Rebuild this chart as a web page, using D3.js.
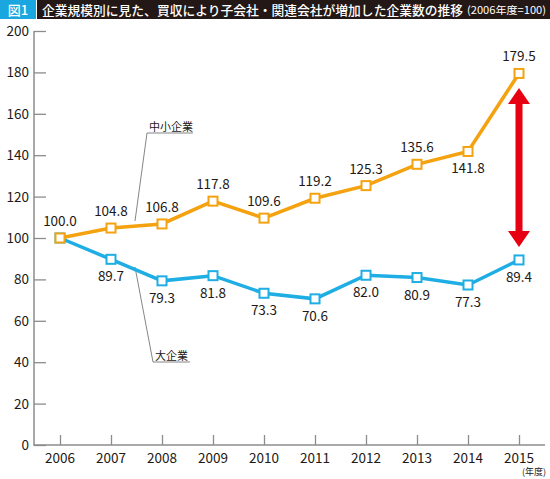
<!DOCTYPE html>
<html><head><meta charset="utf-8">
<script src="https://cdn.jsdelivr.net/npm/d3@7"></script>
<style>body{margin:0;background:#fff;} svg{display:block;}</style>
</head><body>
<script>
const years = ["2006","2007","2008","2009","2010","2011","2012","2013","2014","2015"];
const smeValues = [100.0,104.8,106.8,117.8,109.6,119.2,125.3,135.6,141.8,179.5];
const largeValues = [100.0,89.7,79.3,81.8,73.3,70.6,82.0,80.9,77.3,89.4];
const smeLabelPos = ["above","above","above","above","above","above","above","above","below","above"];
const largeLabelPos = ["none","below","below","below","below","below","below","below","below","below"];
const yTicks = [0,20,40,60,80,100,120,140,160,180,200];
const titleText = "企業規模別に見た、買収により子会社・関連会社が増加した企業数の推移";
const titleNote = "(2006年度=100)";

(function(){
const W=550,H=479;
const svg=d3.select("body").append("svg").attr("width",W).attr("height",H);
const font="'Noto Sans CJK JP','Noto Sans',sans-serif";
const orange="#f4a20f", blue="#1eaee4", axisCol="#8c8c8c";

// title
svg.append("rect").attr("x",0).attr("y",0).attr("width",36).attr("height",19).attr("fill","#1aa6de");
svg.append("rect").attr("x",37).attr("y",0).attr("width",W-37).attr("height",19).attr("fill","#231815");
svg.append("text").attr("x",18).attr("y",14.5).attr("text-anchor","middle").attr("fill","#fff")
  .attr("font-family",font).attr("font-size",13).attr("font-weight",500).text("図1");
svg.append("text").attr("x",42).attr("y",14.5).attr("fill","#fff").attr("font-family",font)
  .attr("font-size",12.7).attr("font-weight",500).attr("textLength",421).attr("lengthAdjust","spacingAndGlyphs").text(titleText);
svg.append("text").attr("x",467).attr("y",14).attr("fill","#fff").attr("font-family",font)
  .attr("font-size",10.5).attr("textLength",79).attr("lengthAdjust","spacingAndGlyphs").text(titleNote);

const x=d3.scalePoint().domain(years).range([60,519]);
const y=d3.scaleLinear().domain([0,200]).range([445,31]);

// y axis
const ya=svg.append("g").attr("transform","translate(34,0)")
  .call(d3.axisRight(y).tickValues(yTicks).tickSize(12).tickFormat(""));
ya.select(".domain").attr("stroke",axisCol).attr("stroke-width",1.5).attr("d","M0,"+y(200)+"V"+(y(0)+0.5));
ya.selectAll(".tick line").attr("stroke",axisCol).attr("stroke-width",1.3);
svg.append("g").selectAll("text").data(yTicks).join("text")
  .attr("x",29).attr("y",d=>y(d)+5).attr("text-anchor","end")
  .attr("font-family",font).attr("font-size",13.5).attr("fill","#231815").text(d=>d);

// x axis
const xa=svg.append("g").attr("transform","translate(0,"+y(0)+")")
  .call(d3.axisTop(x).tickSize(10).tickFormat(""));
xa.select(".domain").attr("stroke",axisCol).attr("stroke-width",1.5).attr("d","M33.5,0H545");
xa.selectAll(".tick line").attr("stroke",axisCol).attr("stroke-width",1.3);
svg.append("g").selectAll("text").data(years).join("text")
  .attr("x",d=>x(d)).attr("y",463).attr("text-anchor","middle")
  .attr("font-family",font).attr("font-size",13.5).attr("fill","#231815").text(d=>d);
svg.append("text").attr("x",546).attr("y",475).attr("text-anchor","end")
  .attr("font-family",font).attr("font-size",9).attr("fill","#231815").text("(年度)");

// leader lines
const lead=svg.append("g").attr("fill","none").attr("stroke","#777").attr("stroke-width",0.9);
lead.append("path").attr("d","M135,221L147,133H193");
lead.append("path").attr("d","M135,267L153,362H190");
svg.append("text").attr("x",149).attr("y",131).attr("font-family",font).attr("font-size",11).attr("fill","#231815").text("中小企業");
svg.append("text").attr("x",155).attr("y",360).attr("font-family",font).attr("font-size",11).attr("fill","#231815").text("大企業");

// series
function drawSeries(vals,col,pos){
  const pts=vals.map((v,i)=>({year:years[i],v:v,pos:pos[i]}));
  const line=d3.line().x(d=>x(d.year)).y(d=>y(d.v));
  svg.append("path").datum(pts).attr("d",line).attr("fill","none").attr("stroke",col).attr("stroke-width",3.5);
  svg.append("g").selectAll("rect").data(pts).join("rect")
    .attr("x",d=>x(d.year)-4.5).attr("y",d=>y(d.v)-4.5).attr("width",9).attr("height",9)
    .attr("fill","#fff").attr("stroke",col).attr("stroke-width",2);
  svg.append("g").selectAll("text").data(pts.filter(d=>d.pos!=="none")).join("text")
    .attr("x",d=>x(d.year)).attr("y",d=>d.pos==="above"?y(d.v)-12:y(d.v)+22)
    .attr("text-anchor","middle").attr("font-family",font).attr("font-size",13.5).attr("fill","#231815")
    .text(d=>d.v.toFixed(1));
}
drawSeries(largeValues,blue,largeLabelPos);
drawSeries(smeValues,orange,smeLabelPos);

// red double arrow
const ax=x("2015"), aTop=88, aBot=247, hw=11, hh=16, sw=3.5;
svg.append("path").attr("fill","#e60012")
  .attr("d",`M${ax},${aTop}L${ax+hw},${aTop+hh}H${ax+sw}V${aBot-hh}H${ax+hw}L${ax},${aBot}L${ax-hw},${aBot-hh}H${ax-sw}V${aTop+hh}H${ax-hw}Z`);
})();
</script>
</body></html>
